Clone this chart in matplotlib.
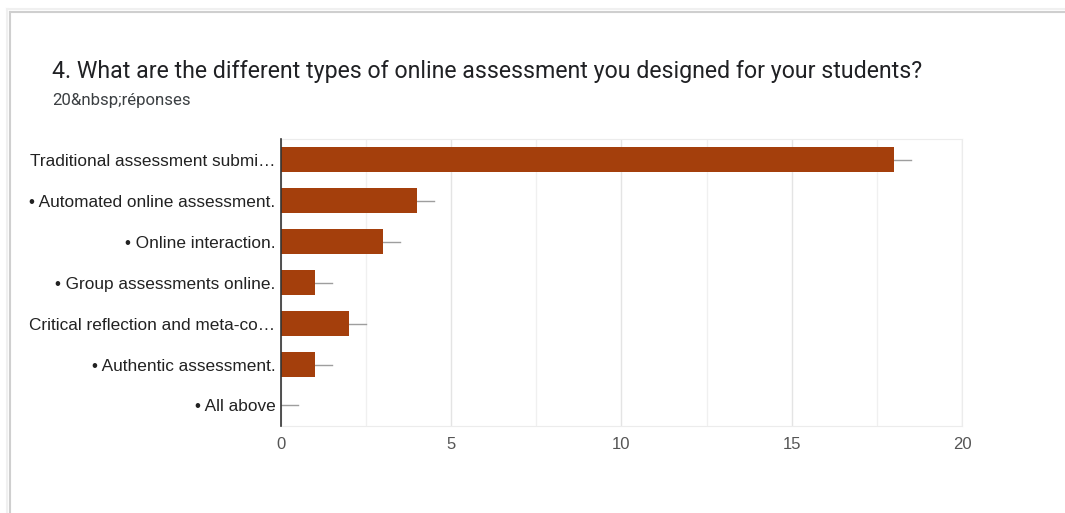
import matplotlib.pyplot as plt
from matplotlib.lines import Line2D

plt.rcParams["font.family"] = ["Roboto", "DejaVu Sans"]

categories = [
    "Traditional assessment submi\u2026",
    "\u2022 Automated online assessment.",
    "\u2022 Online interaction.",
    "\u2022 Group assessments online.",
    "Critical reflection and meta-co\u2026",
    "\u2022 Authentic assessment.",
    "\u2022 All above",
]
counts = [18, 4, 3, 1, 2, 1, 0]
whisker = [0.5, 0.5, 0.5, 0.5, 0.5, 0.5, 0.5]
x_ticks = [0, 5, 10, 15, 20]

title = "4. What are the different types of online assessment you designed for your students?"
subtitle = "20&nbsp;réponses"

fig = plt.figure(figsize=(10.65, 5.13), dpi=100)

# card border with a soft shadow
for off, col in [(0.003, "#f0f0f0"), (0.0, "#cfcfcf")]:
    fig.add_artist(Line2D([0.0094 - off, 0.0094 - off], [0.0, 0.977 + off * 2],
                          color=col, lw=1.5, transform=fig.transFigure))
    fig.add_artist(Line2D([0.0094 - off, 1.0], [0.977 + off * 2, 0.977 + off * 2],
                          color=col, lw=1.5, transform=fig.transFigure))

fig.text(0.049, 0.86, title, fontsize=16.7, color="#202124", va="center")
fig.text(0.049, 0.805, subtitle, fontsize=12.1, color="#3c4043", va="center")

tick_font = ["Liberation Sans", "DejaVu Sans"]

ax = fig.add_axes([0.2638, 0.1696, 0.6395, 0.5594])
y = list(range(len(categories)))
ax.barh(y, counts, height=0.63, color="#a43f0c", zorder=3)
for yi, c, w in zip(y, counts, whisker):
    ax.plot([c, c + w], [yi, yi], color="#9e9e9e", lw=1, zorder=2)

ax.set_xlim(0, 20)
ax.set_ylim(len(categories) - 0.5, -0.5)
ax.set_yticks(y)
ax.set_yticklabels(categories, fontsize=12.4, color="#222222", family=tick_font)
ax.set_xticks(x_ticks)
ax.set_xticklabels([str(t) for t in x_ticks], fontsize=12, color="#555555",
                   family=tick_font)
ax.set_xticks([2.5, 7.5, 12.5, 17.5], minor=True)
ax.tick_params(axis="both", length=0, pad=4)
ax.tick_params(axis="x", which="minor", length=0)
ax.tick_params(axis="x", pad=8)
ax.grid(axis="x", which="major", color="#e4e4e4", lw=1, zorder=0)
ax.grid(axis="x", which="minor", color="#f0f0f0", lw=1, zorder=0)

for s in ["top", "right", "bottom"]:
    ax.spines[s].set_color("#ececec")
ax.spines["left"].set_color("#333333")
ax.spines["left"].set_linewidth(1.2)
ax.spines["left"].set_zorder(4)

fig.savefig("out.png", dpi=100)
